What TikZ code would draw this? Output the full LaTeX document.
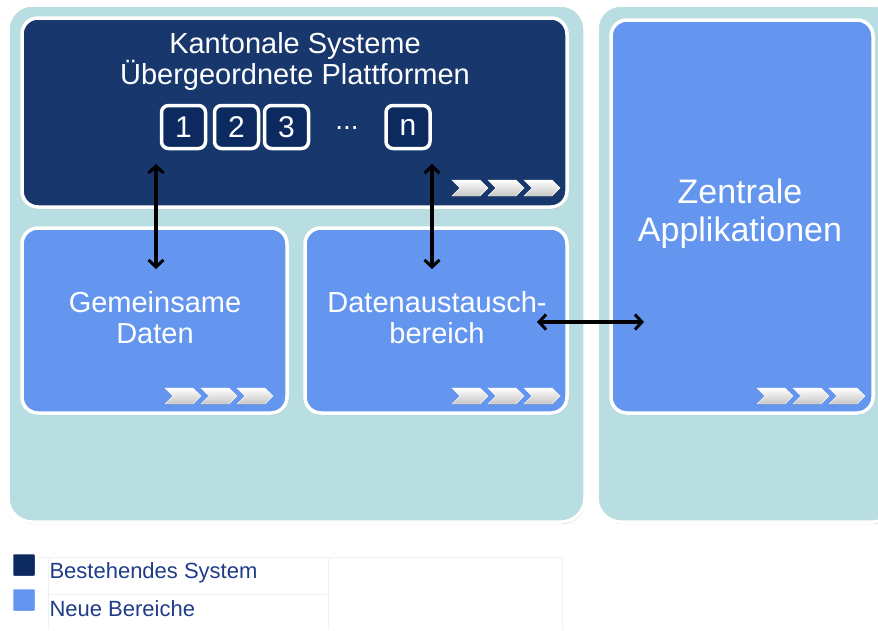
\documentclass[tikz,border=0pt]{standalone}
\usepackage{fontspec}
\setmainfont{Liberation Sans}
\usetikzlibrary{shadows,arrows.meta}

\definecolor{panelbg}{HTML}{B8DEE2}
\definecolor{oldblue}{HTML}{17376D}
\definecolor{numblue}{HTML}{0C2A60}
\definecolor{newblue}{HTML}{6496F0}
\definecolor{legtext}{HTML}{1F3C88}

\tikzset{
    panel/.style={draw=white, line width=3.5pt, fill=panelbg, rounded corners=24pt,
        drop shadow={opacity=0.35, shadow xshift=1pt, shadow yshift=-2pt}},
    oldbox/.style={draw=white, line width=3.5pt, fill=oldblue, rounded corners=16pt,
        drop shadow={opacity=0.3, shadow xshift=1pt, shadow yshift=-2pt}},
    newbox/.style={draw=white, line width=3.5pt, fill=newblue, rounded corners=16pt,
        drop shadow={opacity=0.3, shadow xshift=1pt, shadow yshift=-2pt}},
    numbox/.style={draw=white, line width=3.5pt, fill=numblue, rounded corners=7pt,
        minimum width=44pt, minimum height=43pt, text=white, font=\fontsize{30}{32}\selectfont},
    label/.style={text=white, align=center, font=\fontsize{29}{31}\selectfont},
    legbox/.style={draw=white, line width=2.5pt, rounded corners=2pt, minimum size=24pt,
        drop shadow={opacity=0.3, shadow xshift=0.5pt, shadow yshift=-1pt}},
    legend/.style={anchor=west, text=legtext, font=\fontsize{22}{24}\selectfont},
    link/.style={{Straight Barb[length=7pt,width=15pt,line width=3pt]}-{Straight Barb[length=7pt,width=15pt,line width=3pt]}, line width=3.4pt}
}

\newcommand{\chevrons}[2]{%
    \foreach \k in {0,1,2} {
        \fill[top color=white, bottom color=gray!45, draw=white, line width=0.4pt]
            (#1+\k*36,#2) -- ++(28,0) -- ++(8,8) -- ++(-8,8) -- ++(-28,0) -- ++(8,-8) -- cycle;
    }%
}

\begin{document}
\begin{tikzpicture}[x=1pt,y=-1pt]
    \useasboundingbox (0,0) rectangle (878,630);
    %% panels
    \node[panel, minimum width=577pt, minimum height=517pt] (left) at (296.5,263.5) {};
    \node[panel, minimum width=300pt, minimum height=517pt] (right) at (747,263.5) {};
    %% kantonale systeme
    \node[oldbox, minimum width=545pt, minimum height=189pt] (kant) at (294.5,112.5) {};
    \node[label] (title) at (295,61) {Kantonale Systeme\\Übergeordnete Plattformen};
    \node[numbox] (n1) at (183.5,127) {1};
    \node[numbox] (n2) at (236.5,127) {2};
    \node[numbox] (n3) at (286.5,127) {3};
    \node[text=white, font=\fontsize{28}{30}\selectfont] (dots) at (347,128) {...};
    \node[numbox] (nn) at (408,127) {n};
    \chevrons{452}{180}
    %% new areas
    \node[newbox, minimum width=265pt, minimum height=185pt] (gem) at (154.5,320.5) {};
    \node[label] (gemtext) at (155,318) {Gemeinsame\\Daten};
    \chevrons{165}{388}
    \node[newbox, minimum width=262pt, minimum height=185pt] (dat) at (436,320.5) {};
    \node[label] (dattext) at (437,318) {Datenaustausch-\\bereich};
    \chevrons{452}{388}
    \node[newbox, minimum width=262pt, minimum height=393pt] (zent) at (742,216.5) {};
    \node[label, font=\fontsize{34}{38}\selectfont] (zenttext) at (740,214) {Zentrale\\Applikationen};
    \chevrons{757}{388}
    %% arrows
    \coordinate (k1) at (156,164);
    \coordinate (g1) at (156,269);
    \coordinate (k2) at (432,164);
    \coordinate (d1) at (432,269);
    \coordinate (d2) at (537,322);
    \coordinate (z1) at (644,322);
    \draw[link] (k1) -- (g1);
    \draw[link] (k2) -- (d1);
    \draw[link] (d2) -- (z1);
    %% legend
    \draw[gray!12, line width=0.6pt] (30,557) -- (562,557);
    \draw[gray!12, line width=0.6pt] (48,594) -- (327,594);
    \draw[gray!12, line width=0.6pt] (48,557) -- (48,630);
    \draw[gray!12, line width=0.6pt] (328,557) -- (328,630);
    \draw[gray!12, line width=0.6pt] (562,557) -- (562,630);
    \node[legbox, fill=numblue] (leg1) at (24,565) {};
    \node[legbox, fill=newblue] (leg2) at (24,600) {};
    \node[legend] (legt1) at (46,573) {Bestehendes System};
    \node[legend] (legt2) at (46,609) {Neue Bereiche};
\end{tikzpicture}
\end{document}
